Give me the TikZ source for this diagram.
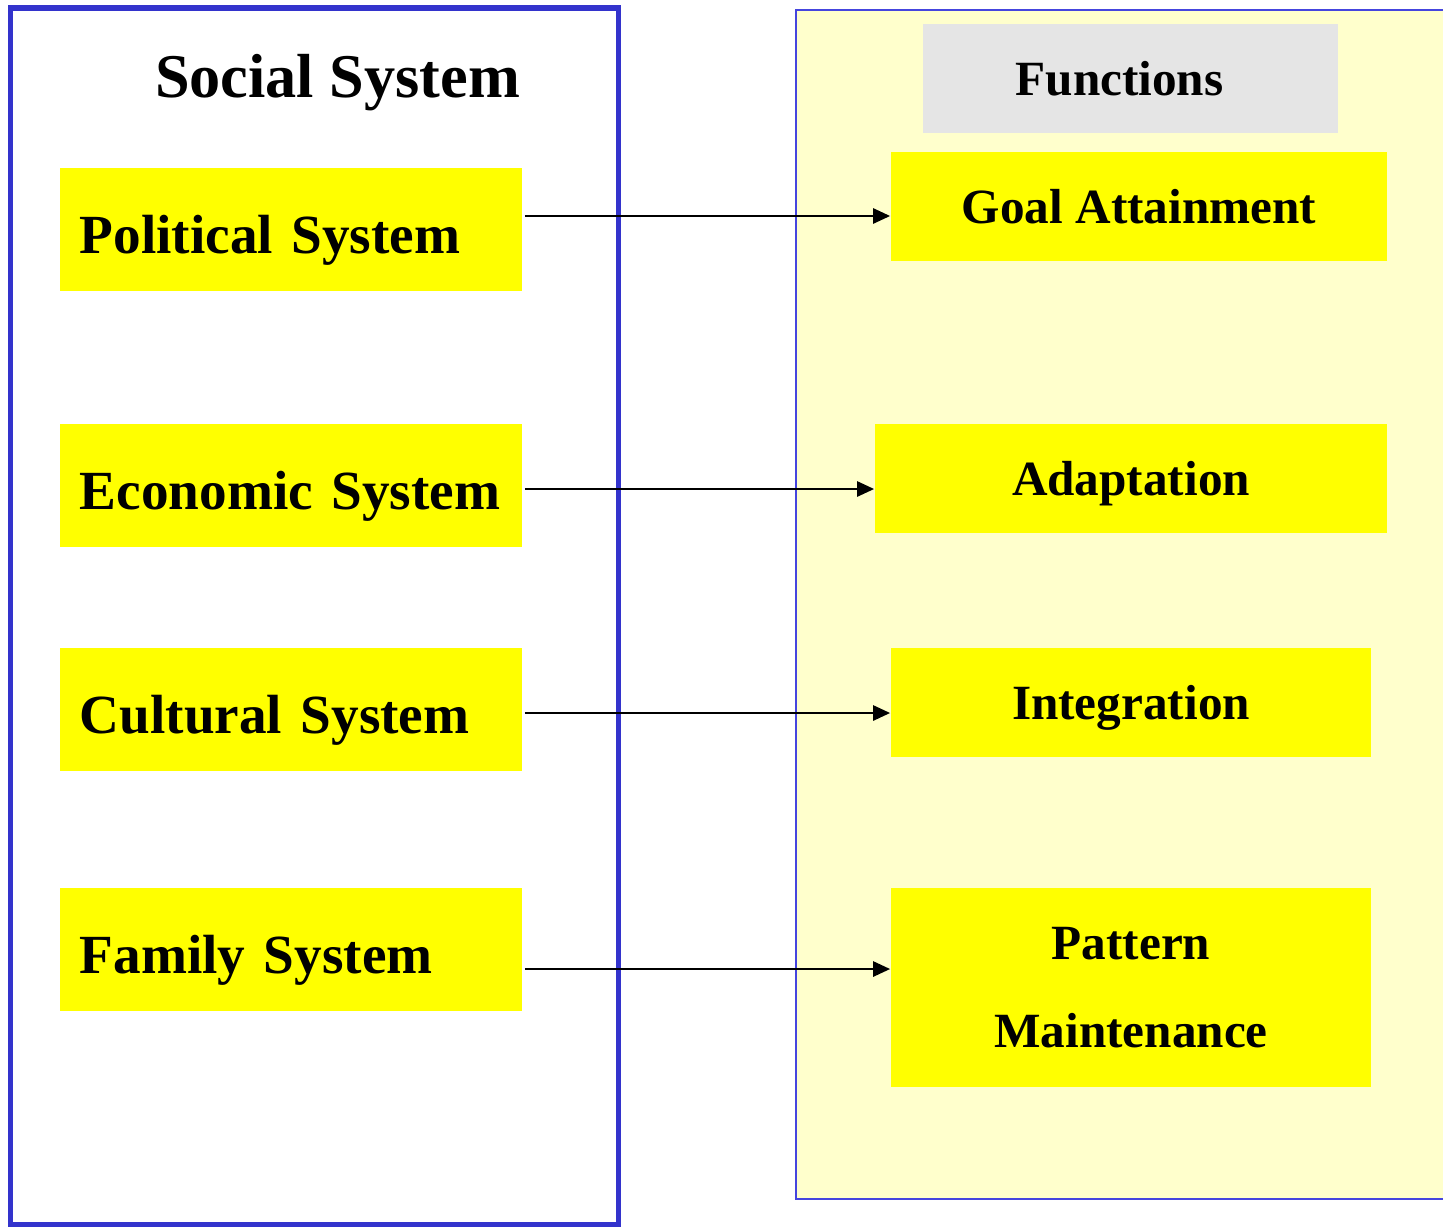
\documentclass[tikz,border=0pt]{standalone}
\usepackage{fontspec}
\setmainfont{Liberation Serif}
\usetikzlibrary{arrows.meta}
\begin{document}
\begin{tikzpicture}[x=0.01cm, y=-0.01cm,
    sysbox/.style={fill=my-yellow, minimum width=4.62cm, minimum height=1.23cm,
      text width=4.22cm, inner xsep=0.2cm, align=left, text height=0.6cm, text depth=0.13cm,
      font=\bfseries\fontsize{15.7}{18}\selectfont},
    funbox/.style={fill=my-yellow, minimum height=1.09cm, inner xsep=0pt,
      text height=0.45cm, text depth=0.12cm, font=\bfseries\fontsize{14}{25}\selectfont},
    link/.style={-{Triangle[length=0.17cm,width=0.15cm]}, line width=0.75pt}]
    \definecolor{my-blue}{rgb}{0.20,0.20,0.80}
    \definecolor{my-lightblue}{rgb}{0.27,0.27,0.87}
    \definecolor{my-yellow}{rgb}{1.00,1.00,0.00}
    \definecolor{my-cream}{rgb}{1.00,1.00,0.80}
    \definecolor{my-gray}{rgb}{0.90,0.90,0.90}
    \useasboundingbox (0,0) rectangle (1443,1227);
    \draw[my-lightblue, fill=my-cream, line width=0.02cm] (796,10) rectangle (1446,1198.5);
    \draw[my-blue, line width=0.05cm] (10.5,8) rectangle (618.5,1224.5);
    \node[anchor=base, font=\bfseries\fontsize{17.7}{20}\selectfont] (title) at (337.5,97) {Social System};
    \node[funbox, fill=my-gray, minimum width=4.15cm] (func) at (1130.5,78.5) {Functions\kern0.22cm};
    \node[sysbox] (pol) at (291,229.5) {Political System};
    \node[sysbox] (eco) at (291,485.5) {Economic System};
    \node[sysbox] (cul) at (291,709.5) {Cultural System};
    \node[sysbox] (fam) at (291,949.5) {Family System};
    \node[funbox, minimum width=4.96cm] (goal) at (1139,206.5) {Goal Attainment};
    \node[funbox, minimum width=5.12cm] (adapt) at (1131,478.5) {Adaptation};
    \node[funbox, minimum width=4.80cm] (integ) at (1131,702.5) {Integration};
    \node[funbox, minimum width=4.80cm, minimum height=1.99cm, text height={}, text depth={},
      align=center] (patt) at (1131,987.5) {Pattern\\Maintenance};
    \draw[link] ([xshift=0.02cm, yshift=0.135cm]pol.east) -- ([yshift=0.135cm]pol.east -| goal.west);
    \draw[link] ([xshift=0.02cm, yshift=-0.035cm]eco.east) -- ([yshift=-0.035cm]eco.east -| adapt.west);
    \draw[link] ([xshift=0.02cm, yshift=-0.035cm]cul.east) -- ([yshift=-0.035cm]cul.east -| integ.west);
    \draw[link] ([xshift=0.02cm, yshift=-0.195cm]fam.east) -- ([yshift=-0.195cm]fam.east -| patt.west);
  \end{tikzpicture}
\end{document}
